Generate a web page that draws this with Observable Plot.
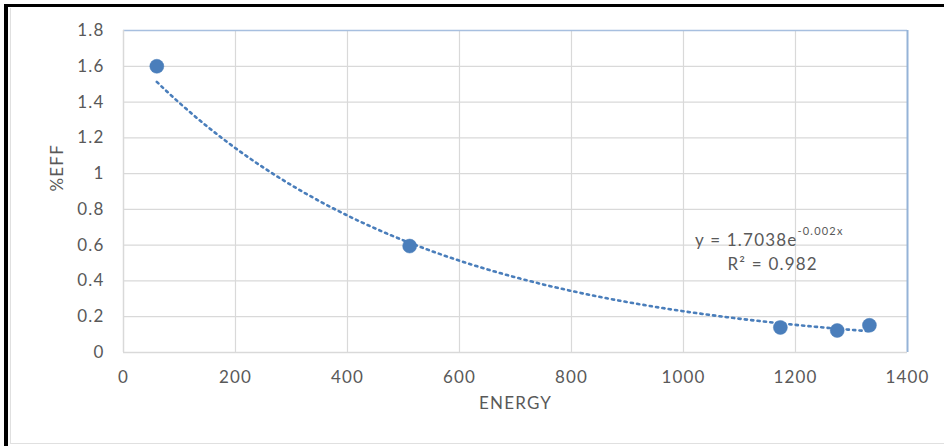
<!DOCTYPE html>
<html>
<head>
<meta charset="utf-8">
<script src="https://cdn.jsdelivr.net/npm/d3@7"></script>
<script src="https://cdn.jsdelivr.net/npm/@observablehq/plot@0.6"></script>
<style>
  html, body { margin: 0; padding: 0; background: #fff; }
  #wrap { position: relative; width: 944px; height: 446px; overflow: hidden; background: #fff; }
  #wrap svg { position: absolute; left: 0; top: 0; }
  #wrap svg text { letter-spacing: 1.2px; }
  #outer { position: absolute; left: 4px; top: 4px; width: 1000px; height: 500px;
           border-left: 4px solid #000; border-top: 3px solid #000; pointer-events: none; }
  #inner { position: absolute; left: 10px; top: 8px; width: 1000px; height: 435px;
           border-left: 1px solid #e0e0e0; border-bottom: 1px solid #e0e0e0; pointer-events: none; }
</style>
</head>
<body>
<div id="wrap"><div id="outer"></div><div id="inner"></div></div>
<script>
// Data
const energy = [59.5, 511, 1173, 1274.5, 1332];
const efficiency = [1.6, 0.595, 0.14, 0.123, 0.152];

// Tick labels
const xTicks = [0, 200, 400, 600, 800, 1000, 1200, 1400];
const yTicks = [0, 0.2, 0.4, 0.6, 0.8, 1, 1.2, 1.4, 1.6, 1.8];

// Exponential trendline as displayed: y = 1.7038 e^(-0.002 x)
const trendA = 1.7038;
const trendB = -0.002;
const equationText = "y = 1.7038e";
const equationExp = "-0.002x";
const r2Text = "R² = 0.982";

const points = energy.map((e, i) => ({energy: e, eff: efficiency[i]}));
const xMin = d3.min(energy), xMax = d3.max(energy);
const trend = d3.range(0, 101).map(i => {
  const x = xMin + (xMax - xMin) * i / 100;
  return {energy: x, eff: trendA * Math.exp(trendB * x)};
});

const blue = "#4A7EBB";
const grid = "#d9d9d9";
const txt = "#595959";
const font = "Lato, 'Open Sans', sans-serif";

const chart = Plot.plot({
  width: 944,
  height: 446,
  marginLeft: 123,
  marginRight: 37,
  marginTop: 30,
  marginBottom: 94,
  style: {fontFamily: font, fontSize: "17px", color: txt, background: "transparent"},
  x: {domain: [0, 1400]},
  y: {domain: [0, 1.8]},
  marks: [
    Plot.gridX(xTicks.filter(d => d > 0 && d < 1400), {stroke: grid, strokeOpacity: 1, strokeWidth: 1.2}),
    Plot.gridY(yTicks.filter(d => d > 0 && d < 1.8), {stroke: grid, strokeOpacity: 1, strokeWidth: 1.2}),
    Plot.ruleY([1.8], {stroke: "#a7bfdf", strokeWidth: 1.3}),
    Plot.ruleX([1400], {stroke: "#95b3d7", strokeWidth: 2}),
    Plot.ruleX([0], {stroke: grid, strokeWidth: 1.5}),
    Plot.ruleY([0], {stroke: grid, strokeWidth: 1.5}),
    Plot.axisX({ticks: xTicks, tickSize: 0, tickPadding: 18, fill: txt, fontSize: 17, label: null,
                tickFormat: d => String(d)}),
    Plot.axisY({ticks: yTicks, tickSize: 0, tickPadding: 19, fill: txt, fontSize: 17, label: null,
                tickFormat: d => String(+d.toFixed(1))}),
    Plot.text(["ENERGY"], {frameAnchor: "bottom", dy: 56, fill: txt, fontSize: 17}),
    Plot.text(["%EFF"], {frameAnchor: "left", dx: -66, rotate: -90, fill: txt, fontSize: 17}),
    Plot.line(trend, {x: "energy", y: "eff", stroke: blue, strokeWidth: 2.6, strokeDasharray: "2.2 4.2"}),
    Plot.dot(points, {x: "energy", y: "eff", r: 7, fill: blue, stroke: blue, strokeWidth: 0.5}),
    Plot.text([equationText], {frameAnchor: "top-left", dx: 674, dy: 203, textAnchor: "end", fill: txt, fontSize: 17}),
    Plot.text([equationExp], {frameAnchor: "top-left", dx: 674, dy: 197, textAnchor: "start", fill: txt, fontSize: 11}),
    Plot.text([r2Text], {frameAnchor: "top-left", dx: 604, dy: 227, textAnchor: "start", fill: txt, fontSize: 17})
  ]
});
document.getElementById("wrap").prepend(chart);
</script>
</body>
</html>
